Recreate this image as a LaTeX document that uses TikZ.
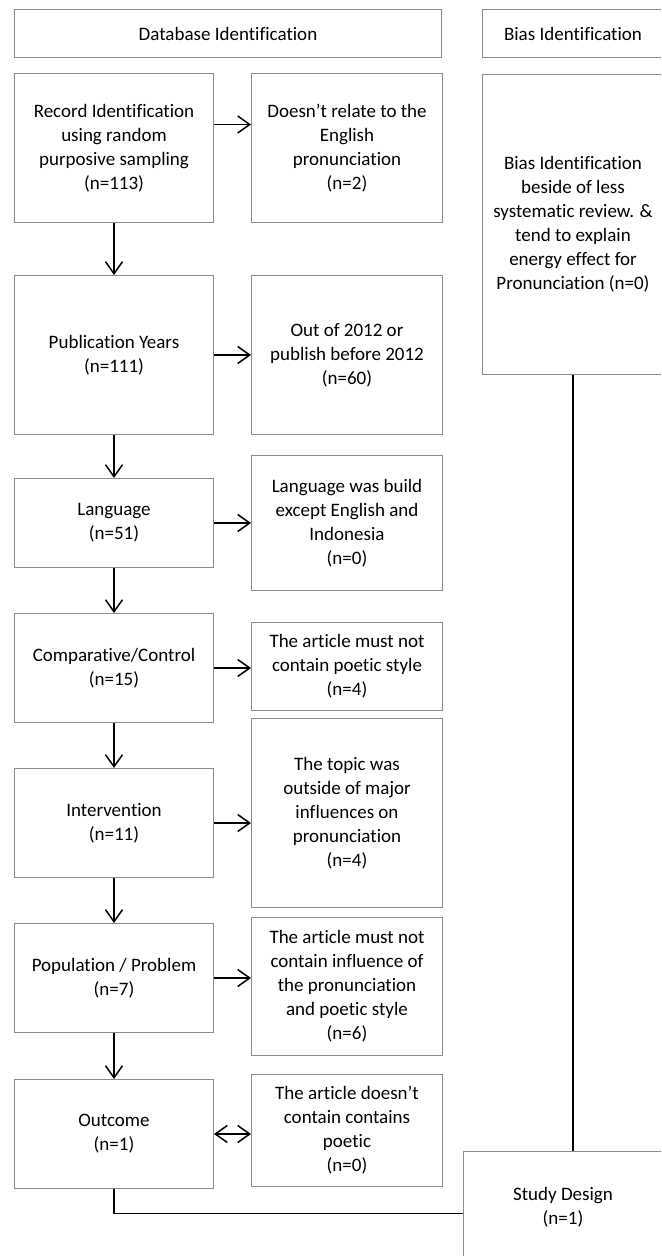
\documentclass[tikz,border=0pt]{standalone}
\usepackage{fontspec}
\setmainfont{Carlito}[RawFeature=-liga]
\usepackage{xcolor}
\usetikzlibrary{arrows.meta,positioning}
\definecolor{boxgray}{HTML}{8C8C8C}
\begin{document}
\begin{tikzpicture}[>={Straight Barb[length=6pt,width=8.5pt]},node distance=22.5pt,
  n/.style={draw=boxgray,line width=0.5pt,align=center,inner sep=2pt,font=\fontsize{9.5}{12}\selectfont},
  lb/.style={n,minimum width=99.5pt,minimum height=54.5pt},
  rb/.style={n,minimum width=95.5pt},
  link/.style={line width=0.75pt}]
\clip (0,0) rectangle (330.5pt,-628pt);
\useasboundingbox (0,0) rectangle (330.5pt,-628pt);
% headers
\node[n,minimum width=213.5pt,minimum height=24pt,anchor=north west] (dbhead) at (7pt,-4.5pt) {Database Identification};
\node[n,minimum width=90.5pt,minimum height=24pt,right=20pt of dbhead] (biashead) {Bias Identification};
% left column
\node[lb,minimum height=74.5pt,anchor=north west] (rec) at (7pt,-36.5pt) {Record Identification\\using random\\purposive sampling\\(n=113)};
\node[lb,minimum height=79.5pt,below=26pt of rec] (years) {Publication Years\\(n=111)};
\node[lb,minimum height=44.5pt,below=21.5pt of years] (lang) {Language\\(n=51)};
\node[lb,below=of lang] (comp) {Comparative/Control\\(n=15)};
\node[lb,below=of comp] (interv) {Intervention\\(n=11)};
\node[lb,below=of interv] (pop) {Population / Problem\\(n=7)};
\node[lb,below=23pt of pop] (outc) {Outcome\\(n=1)};
% excluded records
\node[rb,minimum height=74.5pt,right=18.5pt of rec] (recx) {Doesn’t relate to the\\English\\pronunciation\\(n=2)};
\node[rb,minimum height=79.5pt,right=18.5pt of years] (yearsx) {Out of 2012 or\\publish before 2012\\(n=60)};
\node[rb,minimum height=67.5pt,right=18.5pt of lang] (langx) {Language was build\\except English and\\Indonesia\\(n=0)};
\node[rb,minimum height=44pt,right=18.5pt of comp,yshift=0.75pt] (compx) {The article must not\\contain poetic style\\(n=4)};
\node[rb,minimum height=94.5pt,right=18.5pt of interv,yshift=5pt] (intervx) {The topic was\\outside of major\\influences on\\pronunciation\\(n=4)};
\node[rb,minimum height=69pt,right=18.5pt of pop,yshift=-4.25pt] (popx) {The article must not\\contain influence of\\the pronunciation\\and poetic style\\(n=6)};
\node[rb,minimum height=56pt,right=18.5pt of outc,yshift=1.75pt] (outcx) {The article doesn’t\\contain contains\\poetic\\(n=0)};
% bias side
\node[n,minimum width=90.5pt,minimum height=150pt,below=8pt of biashead] (bias) {Bias Identification\\beside of less\\systematic review. \&\\tend to explain\\energy effect for\\Pronunciation (n=0)};
\node[n,minimum width=99.5pt,minimum height=56pt,anchor=north west] (study) at (231.5pt,-575.5pt) {Study Design\\(n=1)};
% flow
\draw[->,link] (rec) -- (years);
\draw[->,link] (years) -- (lang);
\draw[->,link] (lang) -- (comp);
\draw[->,link] (comp) -- (interv);
\draw[->,link] (interv) -- (pop);
\draw[->,link] (pop) -- (outc);
\coordinate (r1) at ([yshift=11.75pt]rec.east);
\draw[->,link] (r1) -- (r1 -| recx.west);
\draw[->,link] (years.east) -- (years.east -| yearsx.west);
\draw[->,link] (lang.east) -- (lang.east -| langx.west);
\draw[->,link] (comp.east) -- (comp.east -| compx.west);
\draw[->,link] (interv.east) -- (interv.east -| intervx.west);
\draw[->,link] (pop.east) -- (pop.east -| popx.west);
\draw[<->,link] (outc.east) -- (outc.east -| outcx.west);
\draw[link] (bias.south) -- (bias.south |- study.north);
\draw[link] (outc.south) |- ([yshift=-3pt]study.west);
\end{tikzpicture}
\end{document}
